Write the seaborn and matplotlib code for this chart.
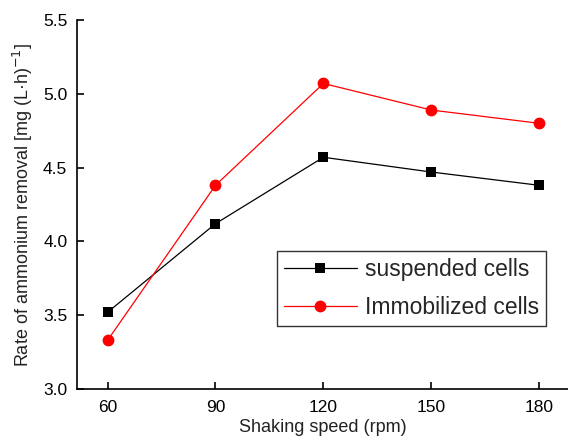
import matplotlib
matplotlib.use("Agg")
import matplotlib.pyplot as plt
import seaborn as sns
import pandas as pd

speed = [60, 90, 120, 150, 180]
suspended = [3.52, 4.12, 4.57, 4.47, 4.38]
immobilized = [3.33, 4.38, 5.07, 4.89, 4.80]
x_ticks = [60, 90, 120, 150, 180]
y_ticks = [3.0, 3.5, 4.0, 4.5, 5.0, 5.5]

sns.set_style("ticks")
plt.rcParams['font.family'] = ['Liberation Sans', 'DejaVu Sans']

fig = plt.figure(figsize=(5.68, 4.46), dpi=100)
ax = fig.add_axes([77/568, 57/446, 1 - 77/568, (389-20)/446])

df_s = pd.DataFrame({"speed": speed, "rate": suspended})
df_i = pd.DataFrame({"speed": speed, "rate": immobilized})

sns.lineplot(data=df_s, x="speed", y="rate", ax=ax, color="black", marker="s",
             markersize=7.5, markeredgewidth=0, linewidth=0.9, label="suspended cells")
sns.lineplot(data=df_i, x="speed", y="rate", ax=ax, color="#ff0000", marker="o",
             markersize=8.5, markeredgewidth=0, linewidth=0.9, label="Immobilized cells")

ax.set_xlim(51.5, 188)
ax.set_ylim(3.0, 5.5)
ax.set_xticks(x_ticks)
ax.set_yticks(y_ticks)
ax.set_yticklabels([f"{v:.1f}" for v in y_ticks])
ax.tick_params(direction="in", length=5, width=1.2, labelsize=12.5, colors="black")
ax.tick_params(axis="x", pad=8)
ax.tick_params(axis="y", pad=7)
for s in ["top", "right"]:
    ax.spines[s].set_visible(False)
for s in ["left", "bottom"]:
    ax.spines[s].set_linewidth(1.2)
    ax.spines[s].set_color("black")

ax.set_xlabel("Shaking speed (rpm)", fontsize=13, color="#222222", labelpad=3)
ax.set_ylabel(r"Rate of ammonium removal [mg (L·h)$^{-1}$]", fontsize=13, color="#222222", labelpad=6)

leg = ax.legend(loc="lower right", bbox_to_anchor=(0.955, 0.171), fontsize=16.5,
                frameon=True, fancybox=False, framealpha=1, edgecolor="#333333",
                handlelength=3.2, handletextpad=0.35, borderpad=0.3, labelspacing=0.65,
                borderaxespad=0)
leg.get_frame().set_linewidth(1.0)

fig.savefig("out.png", dpi=100)
